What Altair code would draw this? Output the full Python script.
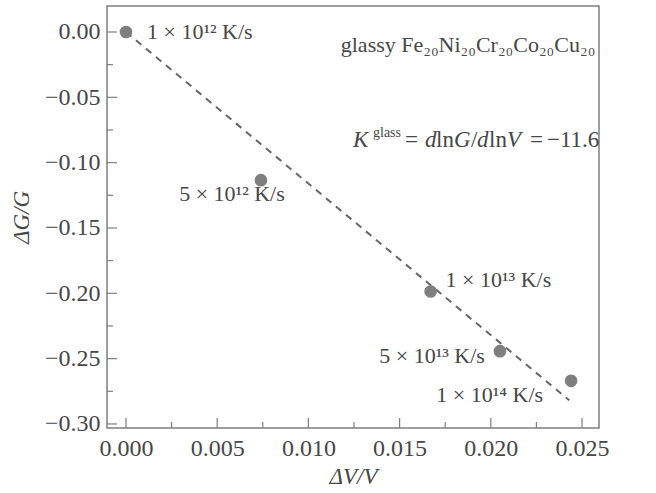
import altair as alt
import pandas as pd

# data
dv = [0.0, 0.0074, 0.0167, 0.0205, 0.0244]
dg = [0.0, -0.1134, -0.1986, -0.2443, -0.2670]
rates = ["1 × 10¹² K/s", "5 × 10¹² K/s", "1 × 10¹³ K/s", "5 × 10¹³ K/s", "1 × 10¹⁴ K/s"]
fit_x = [0.0, 0.0243]
fit_y = [0.0, -0.2819]
x_major = [0.0, 0.005, 0.010, 0.015, 0.020, 0.025]
x_minor = [0.0025, 0.0075, 0.0125, 0.0175, 0.0225]
y_major = [0.0, -0.05, -0.10, -0.15, -0.20, -0.25, -0.30]
y_minor = [-0.025, -0.075, -0.125, -0.175, -0.225, -0.275]

FONT = "Liberation Serif"
TXT = "#474747"
GRAY = "#7f7f7f"
W, H = 492, 422

xs = alt.Scale(domain=[-0.00104, 0.02593], nice=False, zero=False)
ys = alt.Scale(domain=[-0.3031, 0.0199], nice=False, zero=False)

AX = alt.Axis(values=x_major, format=".3f", title="ΔV/V", labelPadding=8, titlePadding=5)
AY = alt.Axis(values=y_major, format=".2f", title="ΔG/G", labelPadding=7, titlePadding=11)


def X():
    return alt.X("x:Q", scale=xs, axis=AX)


def Y():
    return alt.Y("y:Q", scale=ys, axis=AY)


pts = pd.DataFrame({"x": dv, "y": dg, "label": rates})
fit = pd.DataFrame({"x": fit_x, "y": fit_y})


def xticks(vals, ln):
    return alt.Chart(pd.DataFrame({"x": vals})).mark_rule(color=GRAY, strokeWidth=1.2).encode(
        x=X(), y=alt.value(H), y2=alt.value(H - ln))


def yticks(vals, ln):
    return alt.Chart(pd.DataFrame({"y": vals})).mark_rule(color=GRAY, strokeWidth=1.2).encode(
        y=Y(), x=alt.value(0), x2=alt.value(ln))


line = alt.Chart(fit).mark_line(color="#666666", strokeWidth=2, strokeDash=[7, 6]).encode(
    x=X(), y=Y())

points = alt.Chart(pts).mark_circle(size=160, opacity=1, color=GRAY).encode(x=X(), y=Y())

offsets = [(21, 0, "left"), (-29, 14, "center"), (15, -11, "left"),
           (-15, 5, "right"), (-28, 14, "right")]
labels = []
for i, (dx, dy, al) in enumerate(offsets):
    labels.append(alt.Chart(pts.iloc[[i]]).mark_text(
        font=FONT, fontSize=22, color=TXT, align=al, baseline="middle", dx=dx, dy=dy).encode(
        x=X(), y=Y(), text="label:N"))

title_df = pd.DataFrame({"x": [0.01875], "y": [-0.0152], "t": ["glassy Fe₂₀Ni₂₀Cr₂₀Co₂₀Cu₂₀"]})
title_txt = alt.Chart(title_df).mark_text(font=FONT, fontSize=22, color=TXT, align="center",
                                          baseline="alphabetic").encode(x=X(), y=Y(), text="t:N")

kx, ky = 0.012445, -0.0880
pieces = [("K", 0, "italic", 23, 0), ("glass", 20, "normal", 14, -10), ("=", 52, "normal", 23, 0),
          ("d", 72, "italic", 23, 0), ("ln", 83, "normal", 23, 0), ("G", 101, "italic", 23, 0),
          ("/", 118, "normal", 23, 0), ("d", 124, "italic", 23, 0), ("ln", 136, "normal", 23, 0),
          ("V", 154, "italic", 23, 0), ("=", 177, "normal", 23, 0), ("−11.6", 194, "normal", 23, 0)]
kdf = pd.DataFrame({"x": [kx], "y": [ky]})
klayers = []
for t, dx, st, fs, dy in pieces:
    klayers.append(alt.Chart(kdf).mark_text(font=FONT, fontSize=fs, fontStyle=st, color=TXT,
                                            align="left", baseline="alphabetic", dx=dx, dy=dy,
                                            text=t).encode(x=X(), y=Y()))

chart = alt.layer(xticks(x_major, 10), xticks(x_minor, 6), yticks(y_major, 10), yticks(y_minor, 6),
                  line, points, *labels, title_txt, *klayers).properties(
    width=W, height=H, padding={"left": 107, "top": 6, "right": 57, "bottom": 65},
    autosize=alt.AutoSizeParams(type="none"), background="white",
).configure_view(stroke=GRAY, strokeWidth=1.5).configure_axis(
    domain=False, ticks=False, grid=False,
    labelFont=FONT, labelFontSize=24, labelColor=TXT,
    titleFont=FONT, titleFontSize=23, titleColor=TXT, titleFontStyle="italic",
    titleFontWeight="normal",
)

chart.save("out.html", embed_options={"renderer": "svg", "actions": False})
